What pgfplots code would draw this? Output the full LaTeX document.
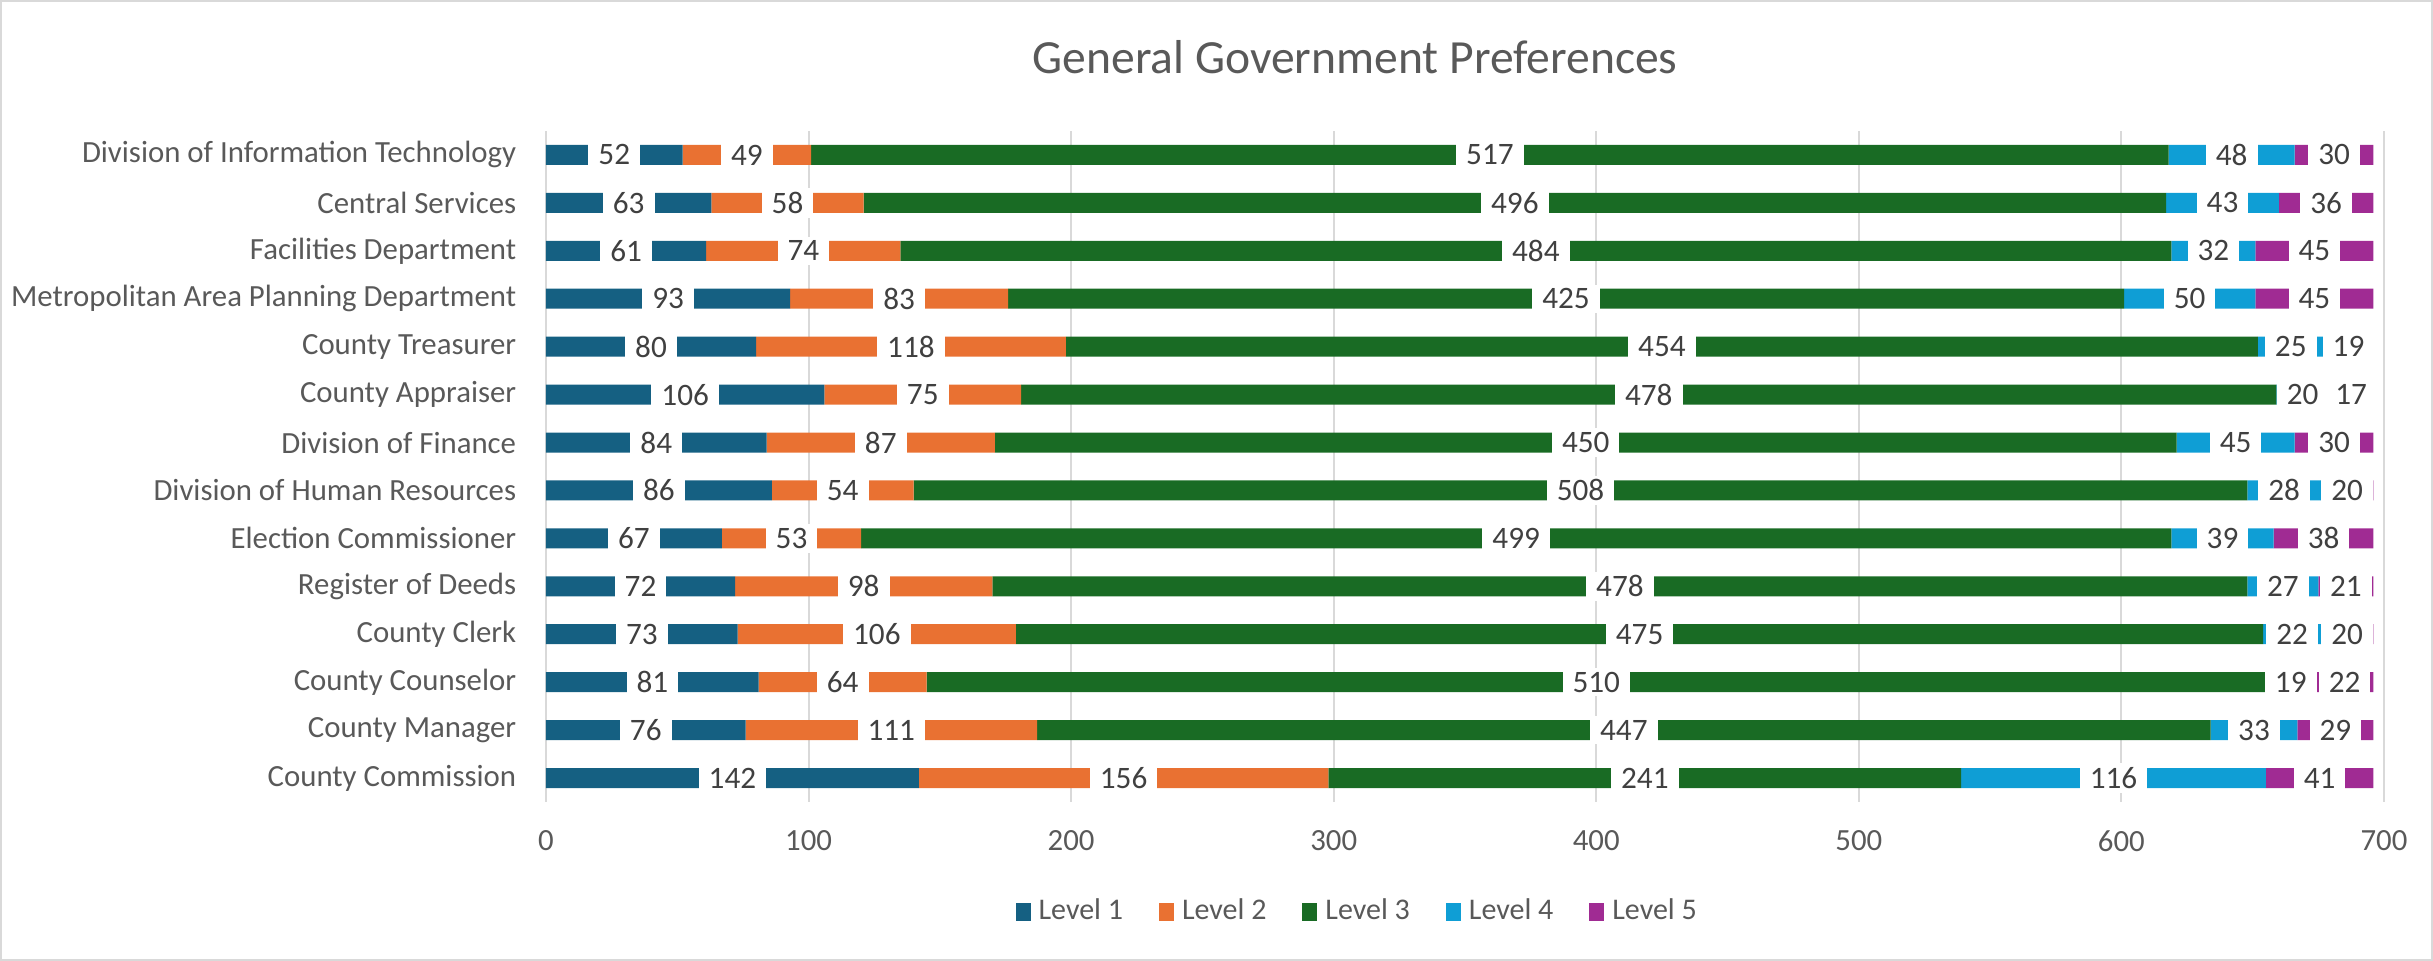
\documentclass[border=0pt]{standalone}
\usepackage{pgfplots}
\pgfplotsset{compat=1.18}
\usepackage{pgfplotstable}
\usepackage{fontspec}
\setmainfont{Carlito}
\definecolor{c1}{HTML}{156082}
\definecolor{c2}{HTML}{E97132}
\definecolor{c3}{HTML}{196B24}
\definecolor{c4}{HTML}{0F9ED5}
\definecolor{c5}{HTML}{A02B93}
\definecolor{txt}{HTML}{595959}
\definecolor{lab}{HTML}{404040}
\definecolor{gridc}{HTML}{D9D9D9}

\pgfplotstableread{
idx L1 L2 L3 L4 L5
0 142 156 241 116 41
1 76 111 447 33 29
2 81 64 510 19 22
3 73 106 475 22 20
4 72 98 478 27 21
5 67 53 499 39 38
6 86 54 508 28 20
7 84 87 450 45 30
8 106 75 478 20 17
9 80 118 454 25 19
10 93 83 425 50 45
11 61 74 484 32 45
12 63 58 496 43 36
13 52 49 517 48 30
}\data

\newcommand{\lev}[2]{%
\addplot[fill=#2, draw=none, point meta=explicit, nodes near coords,
  every node near coord/.append style={anchor=center}]
  table[x=#1, y=idx, meta=#1] {\data};}

\begin{document}
\begin{tikzpicture}
\path (0,0) rectangle (608.25pt,240.25pt);
\draw[gridc, line width=0.5pt] (0.25pt,0.25pt) rectangle (608pt,240pt);
\node[font=\fontsize{11.9}{14}\selectfont, text=txt] at (338.75pt,226pt) {General Government Preferences};
\begin{axis}[
  at={(136.5pt,39.75pt)}, anchor=south west,
  scale only axis, width=459.5pt, height=167.75pt,
  xbar stacked, bar width=5pt,
  xmin=0, xmax=700, ymin=-0.5, ymax=13.5,
  xtick={0,100,...,700},
  ytick={0,...,13},
  yticklabels={County Commission\hspace{2pt}, County Manager, County Counselor, County Clerk, Register of Deeds, Election Commissioner, Division of Human Resources, Division of Finance, County Appraiser, County Treasurer, Metropolitan Area Planning Department, Facilities Department, Central Services, Division of Information Technology},
  axis line style={draw=none},
  major tick length=0pt,
  xmajorgrids, grid style={draw=gridc, line width=0.5pt},
  /pgf/number format/assume math mode=true,
  tick label style={font=\fontsize{7.7}{10}\selectfont, text=txt},
  xticklabel style={anchor=center, yshift=-9.75pt},
  yticklabel style={anchor=east, inner sep=0pt, xshift=-7.25pt},
  nodes near coords style={font=\fontsize{7.8}{9}\selectfont, text=lab, fill=white, inner xsep=2.5pt, inner ysep=1pt},
  legend columns=5,
  legend style={at={(0.443,-0.164)}, anchor=center, draw=none, font=\fontsize{7.5}{9}\selectfont, text=txt,
    /tikz/every even column/.append style={column sep=7pt}},
  legend image code/.code={\fill[#1] (0pt,-2.25pt) rectangle (3.75pt,2.25pt);},
]
\lev{L1}{c1}
\lev{L2}{c2}
\lev{L3}{c3}
\lev{L4}{c4}
\lev{L5}{c5}
\legend{Level 1, Level 2, Level 3, Level 4, Level 5}
\end{axis}
\end{tikzpicture}
\end{document}
